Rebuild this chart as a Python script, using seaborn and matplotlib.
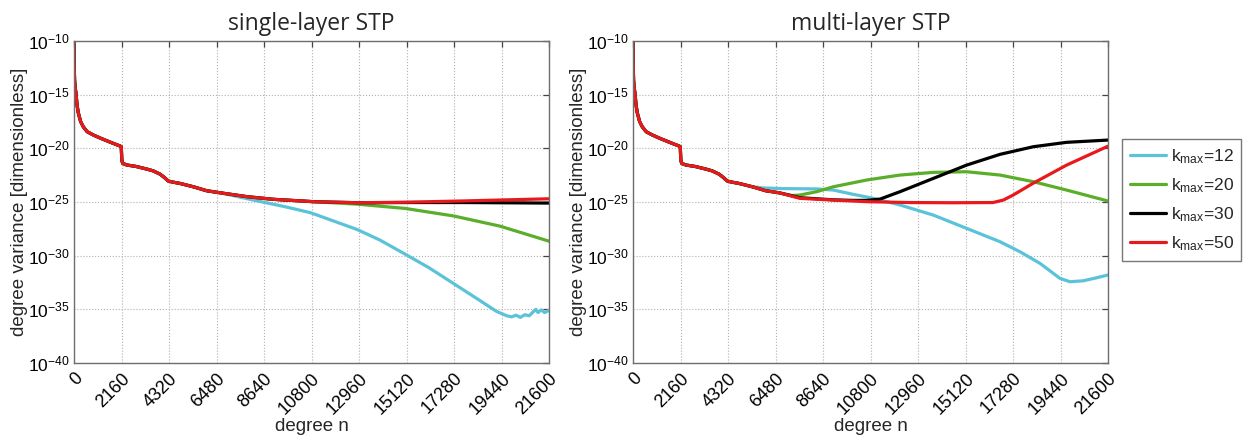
import numpy as np
import pandas as pd
import matplotlib
matplotlib.use("Agg")
import matplotlib.pyplot as plt
from matplotlib.ticker import FixedLocator, FixedFormatter, NullLocator
import seaborn as sns

# ---- data: degree n and log10(degree variance) ----
# shared low-degree part of every model
n_base = [0, 8, 25, 50, 91, 140, 196, 300, 424, 600, 880, 1200, 1485, 1800,
          2090, 2150, 2160, 2175, 2213, 2400, 2850, 3306, 3600, 3910, 4100,
          4290, 4500, 4820, 5425]
lv_base = [-10.0, -12.0, -13.6, -14.3, -14.9, -16.0, -16.7, -17.5, -18.0,
           -18.45, -18.76, -19.05, -19.29, -19.55, -19.78, -19.85, -20.4,
           -21.1, -21.4, -21.55, -21.7, -21.93, -22.1, -22.4, -22.7, -23.05,
           -23.15, -23.27, -23.58]

# single-layer STP, high-degree tails
single_n_12 = [6030, 6640, 8000, 9622, 10759, 12872, 13915, 15128, 16123,
               17248, 18398, 19220, 19676, 19900, 20100, 20300, 20500, 20700,
               20900, 21000, 21100, 21250, 21400, 21600]
single_lv_12 = [-23.95, -24.14, -24.75, -25.45, -26.0, -27.56, -28.55, -29.94,
                -31.1, -32.58, -34.1, -35.2, -35.6, -35.7, -35.55, -35.75,
                -35.5, -35.6, -35.2, -35.0, -35.3, -35.05, -35.3, -35.1]
single_n_20 = [6030, 6640, 7850, 9060, 10880, 12872, 15066, 17260, 19373, 21600]
single_lv_20 = [-23.95, -24.14, -24.5, -24.75, -24.97, -25.2, -25.6, -26.3,
                -27.25, -28.65]
single_n_30 = [6030, 6640, 7850, 9060, 10880, 12940, 15070, 17750, 21600]
single_lv_30 = [-23.95, -24.14, -24.5, -24.75, -24.97, -25.07, -25.05, -25.05,
                -25.1]
single_n_50 = [6030, 6640, 7850, 9060, 10880, 12940, 15070, 17750, 21600]
single_lv_50 = [-23.95, -24.14, -24.5, -24.75, -24.97, -25.07, -25.02, -24.9,
                -24.7]

# multi-layer STP, high-degree tails
multi_n_12 = [6000, 6840, 8354, 9112, 10023, 10933, 12142, 13658, 15174,
              16690, 17600, 18510, 19420, 19870, 20480, 21000, 21600]
multi_lv_12 = [-23.7, -23.75, -23.78, -23.89, -24.29, -24.66, -25.28, -26.22,
               -27.46, -28.7, -29.64, -30.72, -32.12, -32.43, -32.34, -32.1,
               -31.8]
multi_n_20 = [6030, 6640, 7230, 7594, 8354, 9112, 10630, 12142, 13658, 15174,
              16690, 18205, 19720, 21600]
multi_lv_20 = [-23.95, -24.14, -24.4, -24.35, -24.04, -23.58, -22.95, -22.49,
               -22.24, -22.18, -22.49, -23.11, -23.89, -24.91]
multi_n_30 = [6030, 6640, 7594, 9112, 10000, 10630, 11232, 12142, 13658,
              15174, 16690, 18205, 19720, 21600]
multi_lv_30 = [-23.95, -24.14, -24.6, -24.8, -24.85, -24.85, -24.73, -24.04,
               -22.8, -21.56, -20.56, -19.85, -19.44, -19.23]
multi_n_50 = [6030, 6640, 7594, 9112, 10630, 12559, 14546, 16371, 16840,
              17290, 18190, 19720, 21600]
multi_lv_50 = [-23.95, -24.14, -24.66, -24.82, -24.97, -25.05, -25.07, -25.05,
               -24.82, -24.35, -23.26, -21.56, -19.8]

kmax_values = [12, 20, 30, 50]
colors = ["#5bc3d9", "#5aae2a", "#000000", "#e8191d"]
x_ticks = [0, 2160, 4320, 6480, 8640, 10800, 12960, 15120, 17280, 19440, 21600]
y_exponents = [-10, -15, -20, -25, -30, -35, -40]

panels = {
    "single-layer STP": [(single_n_12, single_lv_12), (single_n_20, single_lv_20),
                         (single_n_30, single_lv_30), (single_n_50, single_lv_50)],
    "multi-layer STP": [(multi_n_12, multi_lv_12), (multi_n_20, multi_lv_20),
                        (multi_n_30, multi_lv_30), (multi_n_50, multi_lv_50)],
}

sns.set_style("white")
plt.rcParams["font.family"] = ["Liberation Sans", "DejaVu Sans"]
plt.rcParams["mathtext.fontset"] = "custom"
plt.rcParams["mathtext.rm"] = "Liberation Sans"
plt.rcParams["mathtext.it"] = "Liberation Sans"
plt.rcParams["mathtext.default"] = "regular"

W, H = 1245, 438
fig = plt.figure(figsize=(W / 100, H / 100), dpi=100)
ax_left = fig.add_axes([74 / W, 75 / H, 475 / W, 322 / H])
ax_right = fig.add_axes([633 / W, 75 / H, 475 / W, 322 / H])

for ax, (title, series) in zip([ax_left, ax_right], panels.items()):
    for (n_tail, lv_tail), k, c in zip(series, kmax_values, colors):
        df = pd.DataFrame({
            "degree": n_base + n_tail,
            "variance": 10.0 ** np.array(lv_base + lv_tail),
        })
        sns.lineplot(data=df, x="degree", y="variance", ax=ax, color=c,
                     linewidth=2.3, estimator=None, sort=False,
                     label=f"k$_{{max}}$={k}", legend=False)
    ax.set_yscale("log")
    ax.set_xlim(0, 21600)
    ax.set_ylim(1e-40, 1e-10)
    ax.xaxis.set_major_locator(FixedLocator(x_ticks))
    ax.yaxis.set_major_locator(FixedLocator([10.0 ** e for e in y_exponents]))
    ax.yaxis.set_minor_locator(NullLocator())
    ax.yaxis.set_major_formatter(
        FixedFormatter([f"$10^{{{e}}}$" for e in y_exponents]))
    ax.set_xticklabels([str(t) for t in x_ticks], rotation=45, ha="right",
                       va="top", rotation_mode="anchor")
    ax.tick_params(axis="both", direction="in", length=4, width=0.9,
                   top=True, right=True, colors="#444444", labelcolor="black")
    ax.tick_params(axis="y", labelsize=12.5, pad=3)
    ax.tick_params(axis="x", labelsize=13, pad=5)
    ax.grid(True, linestyle=":", color="#b0b0b0", linewidth=0.8)
    for sp in ax.spines.values():
        sp.set_color("#6e6e6e")
        sp.set_linewidth(1.0)
    ax.set_title(title, fontsize=16.5, family=["Open Sans", "DejaVu Sans"],
                 pad=8)
    ax.set_xlabel("degree n", fontsize=13.5)
    ax.set_ylabel("degree variance [dimensionless]", fontsize=13.5)
    ax.xaxis.set_label_coords(0.5, -0.172)
    ax.yaxis.set_label_coords(-0.097, 0.5)

handles = ax_right.get_lines()[:4]
labels = [h.get_label() for h in handles]
leg = fig.legend(handles, labels, loc="upper left",
                 bbox_to_anchor=(1122 / W, 1 - 139 / H), borderaxespad=0,
                 fontsize=12.5, frameon=True, fancybox=False,
                 handlelength=2.1, handletextpad=0.25, labelspacing=0.6,
                 borderpad=0.45)
leg.get_frame().set_edgecolor("#555555")
leg.get_frame().set_linewidth(1.0)

fig.savefig("out.png", dpi=100)
